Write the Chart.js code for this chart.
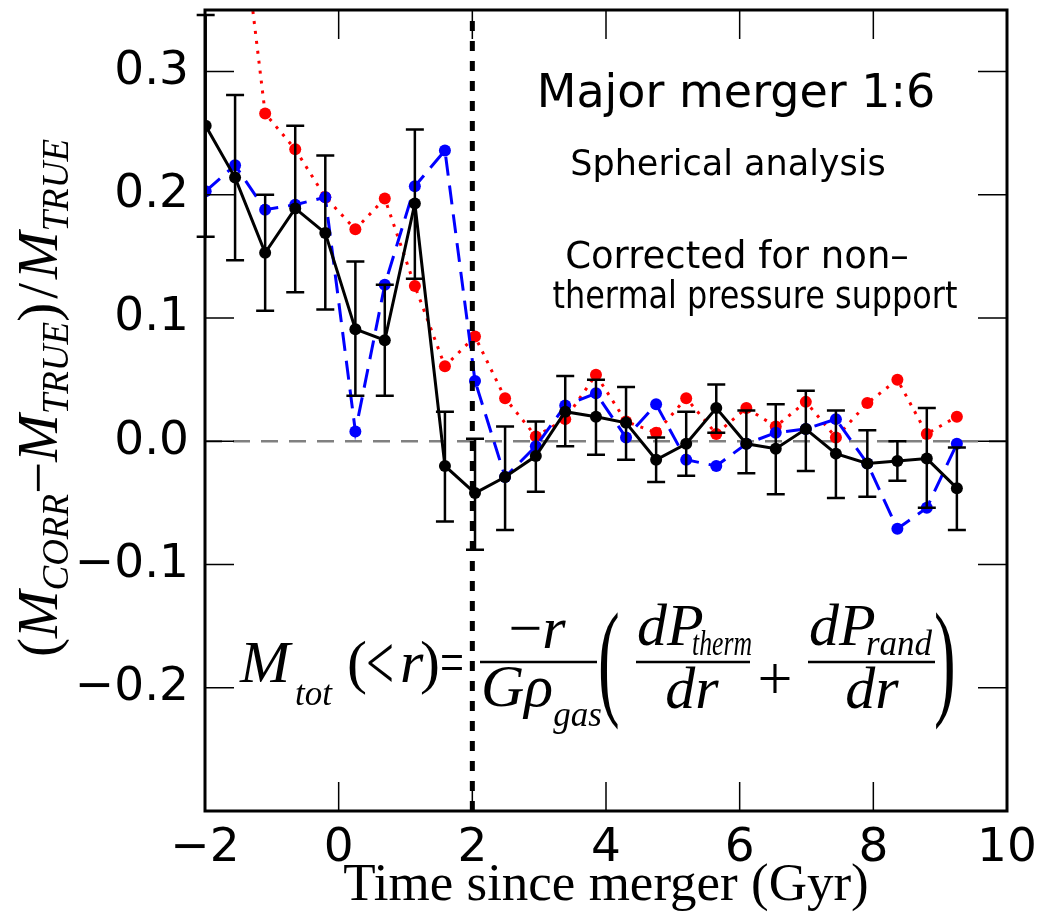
<!DOCTYPE html>
<html>
<head>
<meta charset="utf-8">
<script src="https://cdn.jsdelivr.net/npm/chart.js@4"></script>
<style>
  html, body { margin: 0; padding: 0; background: #fff; }
</style>
</head>
<body>
<canvas id="chart" width="1044" height="923"></canvas>
<script>
// time since merger (Gyr) for every snapshot
const times = [-1.99, -1.55, -1.10, -0.65, -0.20, 0.25, 0.69, 1.14, 1.59, 2.04, 2.49, 2.95, 3.39,
               3.85, 4.30, 4.75, 5.20, 5.65, 6.10, 6.54, 6.99, 7.44, 7.91, 8.36, 8.80, 9.25];

// black: mean with error bars
const meanVals = [0.256, 0.214, 0.153, 0.189, 0.169, 0.091, 0.082, 0.193, -0.020, -0.042, -0.029, -0.012, 0.024,
                  0.020, 0.015, -0.015, -0.002, 0.027, -0.002, -0.006, 0.010, -0.010, -0.018, -0.016, -0.014, -0.038];
const meanHi = [0.346, 0.281, 0.200, 0.256, 0.232, 0.146, 0.127, 0.253, 0.024, 0.002, 0.012, 0.016, 0.053,
                0.050, 0.044, 0.003, 0.024, 0.046, 0.025, 0.030, 0.041, 0.025, 0.009, 0.000, 0.027, -0.005];
const meanLo = [0.166, 0.147, 0.106, 0.121, 0.107, 0.037, 0.037, 0.132, -0.065, -0.088, -0.072, -0.041, -0.004,
                -0.011, -0.015, -0.033, -0.028, 0.007, -0.026, -0.043, -0.024, -0.046, -0.045, -0.032, -0.054, -0.072];

// blue dashed
const blueVals = [0.203, 0.224, 0.188, 0.192, 0.198, 0.008, 0.127, 0.207, 0.236, 0.049, -0.029, -0.004, 0.029,
                  0.039, 0.003, 0.030, -0.015, -0.020, -0.002, 0.007, 0.010, 0.018, -0.018, -0.071, -0.054, -0.002];

// red dotted
const redVals = [null, 0.47, 0.266, 0.237, 0.198, 0.172, 0.197, 0.126, 0.061, 0.085, 0.035, 0.004, 0.018,
                 0.054, 0.016, 0.007, 0.035, 0.006, 0.027, 0.012, 0.032, 0.003, 0.031, 0.050, 0.006, 0.020];

const xTicks = [-2, 0, 2, 4, 6, 8, 10];
const yTicks = [-0.3, -0.2, -0.1, 0.0, 0.1, 0.2, 0.3];
const yLabelled = [-0.2, -0.1, 0.0, 0.1, 0.2, 0.3];
const mergerTime = 2;
const xRange = [-2, 10];
const yRange = [-0.3, 0.35];

const SERIF = '"Liberation Serif", "Times New Roman", serif';
const SANS = '"DejaVu Sans", sans-serif';

function pts(vals) {
    return times.map((t, i) => ({ x: t, y: vals[i] }));
}

function drawErrorBars(chart) {
    const ctx = chart.ctx;
    const xs = chart.scales.x, ys = chart.scales.y;
    ctx.save();
    ctx.strokeStyle = '#000';
    ctx.lineWidth = 2.5;
    times.forEach((t, i) => {
        const px = xs.getPixelForValue(t);
        const top = ys.getPixelForValue(meanHi[i]);
        const bot = ys.getPixelForValue(meanLo[i]);
        ctx.beginPath();
        ctx.moveTo(px, top); ctx.lineTo(px, bot);
        ctx.moveTo(px - 9, top); ctx.lineTo(px + 9, top);
        ctx.moveTo(px - 9, bot); ctx.lineTo(px + 9, bot);
        ctx.stroke();
    });
    ctx.restore();
}

function drawFrame(chart) {
    const ctx = chart.ctx;
    const a = chart.chartArea;
    const xs = chart.scales.x, ys = chart.scales.y;
    ctx.save();
    ctx.strokeStyle = '#000';
    ctx.lineWidth = 1.5;
    ctx.beginPath();
    xTicks.forEach(v => {
        const p = xs.getPixelForValue(v);
        ctx.moveTo(p, a.bottom); ctx.lineTo(p, a.bottom - 29);
        ctx.moveTo(p, a.top); ctx.lineTo(p, a.top + 29);
    });
    yTicks.forEach(v => {
        const p = ys.getPixelForValue(v);
        ctx.moveTo(a.left, p); ctx.lineTo(a.left + 29, p);
        ctx.moveTo(a.right, p); ctx.lineTo(a.right - 29, p);
    });
    ctx.stroke();
    ctx.lineWidth = 3;
    ctx.strokeRect(a.left, a.top, a.right - a.left, a.bottom - a.top);
    ctx.restore();
}

// draw a run of [text, font, dy, extra gap] pieces starting at x
function run(ctx, pieces, x, y) {
    pieces.forEach(p => {
        ctx.font = p[1];
        ctx.fillText(p[0], x, y + (p[2] || 0));
        x += ctx.measureText(p[0]).width + (p[3] || 0);
    });
    return x;
}
function runWidth(ctx, pieces) {
    let w = 0;
    pieces.forEach(p => { ctx.font = p[1]; w += ctx.measureText(p[0]).width + (p[3] || 0); });
    return w;
}

function drawTexts(chart) {
    const ctx = chart.ctx;
    ctx.save();
    ctx.fillStyle = '#000';
    ctx.textBaseline = 'alphabetic';

    // annotations
    ctx.textAlign = 'center';
    ctx.font = '46px ' + SANS;
    ctx.fillText('Major merger 1:6', 736, 107);
    ctx.font = '35px ' + SANS;
    ctx.fillText('Spherical analysis', 728, 175);
    ctx.font = '37px ' + SANS;
    ctx.fillText('Corrected for non\u2013', 737, 268, 365);
    ctx.fillText('thermal pressure support', 755, 308, 405);

    // y axis title, rotated
    ctx.textAlign = 'left';
    const big = 'italic 57px ' + SERIF, sub = 'italic 37px ' + SERIF, up = '57px ' + SERIF;
    const yt = [['(', up], ['M', big], ['CORR', sub, 11], ['\u2212', up], ['M', big], ['TRUE', sub, 11],
                [')', up, 0, 4], ['/', up, 0, 4], ['M', big], ['TRUE', sub, 11]];
    ctx.save();
    ctx.translate(40, 398);
    ctx.rotate(-Math.PI / 2);
    run(ctx, yt, -runWidth(ctx, yt) / 2, 17);
    ctx.restore();

    // formula
    const F = 'italic 60px ' + SERIF, FR = '60px ' + SERIF, FS = 'italic 35px ' + SERIF;
    ctx.font = F; ctx.fillText('M', 240, 682);
    ctx.font = FS; ctx.fillText('tot', 295, 705);
    ctx.font = FR; ctx.fillText('(', 347, 682);
    ctx.font = '78px ' + SERIF; ctx.fillText('<', 366, 689, 28);
    ctx.font = F; ctx.fillText('r', 400, 682);
    ctx.font = FR; ctx.fillText(')', 420, 682);
    ctx.fillText('=', 440, 682, 24);
    ctx.lineWidth = 2.5;
    const bar = (x0, x1) => { ctx.beginPath(); ctx.moveTo(x0, 662); ctx.lineTo(x1, 662); ctx.stroke(); };
    bar(480, 597);
    const num1 = [['\u2212', FR], ['r', F]];
    run(ctx, num1, 537 - runWidth(ctx, num1) / 2, 648);
    run(ctx, [['G', F], ['\u03c1', F], ['gas', FS, 20]], 481, 706);
    ctx.save();
    ctx.translate(598, 662); ctx.scale(0.5, 1);
    ctx.font = '130px ' + SERIF; ctx.fillText('(', 0, 40);
    ctx.restore();
    bar(636, 750);
    ctx.font = F; ctx.fillText('dP', 637, 645);
    ctx.font = FS; ctx.fillText('therm', 692, 655, 60);
    ctx.textAlign = 'center';
    ctx.font = F; ctx.fillText('dr', 692, 708);
    ctx.font = '62px ' + SERIF; ctx.fillText('+', 775, 699);
    ctx.textAlign = 'left';
    bar(808, 935);
    ctx.font = F; ctx.fillText('dP', 809, 645);
    ctx.font = FS; ctx.fillText('rand', 866, 655, 68);
    ctx.textAlign = 'center';
    ctx.font = F; ctx.fillText('dr', 872, 708);
    ctx.save();
    ctx.translate(934, 662); ctx.scale(0.5, 1);
    ctx.textAlign = 'left';
    ctx.font = '130px ' + SERIF; ctx.fillText(')', 0, 40);
    ctx.restore();
    ctx.restore();
}

const decor = {
    id: 'decor',
    beforeDatasetDraw(chart, args) {
        if (chart.data.datasets[args.index].label === 'mean') drawErrorBars(chart);
    },
    afterDatasetsDraw(chart) { drawFrame(chart); },
    afterDraw(chart) { drawTexts(chart); }
};

new Chart(document.getElementById('chart'), {
    type: 'scatter',
    data: {
        datasets: [
            {
                label: 'zero', data: [{ x: xRange[0], y: 0 }, { x: xRange[1], y: 0 }],
                showLine: true, borderColor: '#808080', borderWidth: 2.5, borderDash: [17, 11],
                pointRadius: 0, order: 6
            },
            {
                label: 'red', data: pts(redVals), showLine: true, spanGaps: false,
                borderColor: '#ff0000', backgroundColor: '#ff0000', borderWidth: 3, borderDash: [3, 7],
                pointRadius: 6, pointBorderWidth: 0, order: 5
            },
            {
                label: 'blue', data: pts(blueVals), showLine: true,
                borderColor: '#0000ff', backgroundColor: '#0000ff', borderWidth: 3, borderDash: [19, 10],
                pointRadius: 6, pointBorderWidth: 0, order: 4
            },
            {
                label: 'mean', data: pts(meanVals), showLine: true,
                borderColor: '#000', backgroundColor: '#000', borderWidth: 3,
                pointRadius: 6, pointBorderWidth: 0, order: 3
            },
            {
                label: 'merger', data: [{ x: mergerTime, y: yRange[0] }, { x: mergerTime, y: yRange[1] }],
                showLine: true, borderColor: '#000', borderWidth: 5, borderDash: [10, 10],
                pointRadius: 0, order: 2
            }
        ]
    },
    options: {
        responsive: false,
        animation: false,
        events: [],
        layout: { padding: { left: 0, top: 10, right: 37, bottom: 0 } },
        plugins: { legend: { display: false }, tooltip: { enabled: false } },
        scales: {
            x: {
                type: 'linear', min: xRange[0], max: xRange[1],
                afterBuildTicks: s => { s.ticks = xTicks.map(v => ({ value: v })); },
                afterFit: s => { s.height = 112; s.paddingLeft = 0; s.paddingRight = 0; },
                grid: { display: false }, border: { display: false },
                ticks: {
                    color: '#000', font: { family: SANS, size: 47 }, padding: 2, maxRotation: 0,
                    callback: v => (v < 0 ? '\u2212' : '') + Math.abs(v)
                },
                title: {
                    display: true, text: 'Time since merger (Gyr)', color: '#000',
                    font: { family: SERIF, size: 53 }, padding: { top: 0, bottom: 5 }
                }
            },
            y: {
                type: 'linear', min: yRange[0], max: yRange[1],
                afterBuildTicks: s => { s.ticks = yLabelled.map(v => ({ value: v })); },
                afterFit: s => { s.width = 205; s.paddingTop = 0; s.paddingBottom = 0; },
                grid: { display: false }, border: { display: false },
                ticks: {
                    color: '#000', font: { family: SANS, size: 47 }, padding: 8,
                    callback: v => (v < -1e-9 ? '\u2212' : '') + Math.abs(v).toFixed(1)
                }
            }
        }
    },
    plugins: [decor]
});
</script>
</body>
</html>
